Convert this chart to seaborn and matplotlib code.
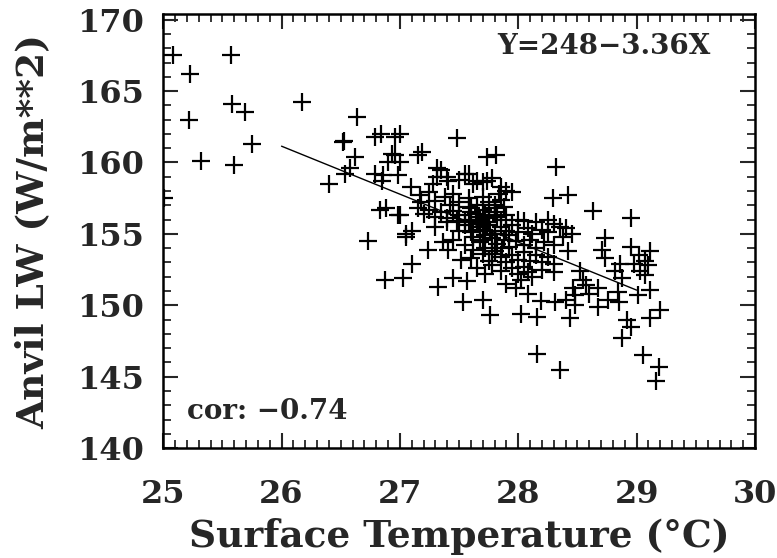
import matplotlib
matplotlib.use("Agg")
import matplotlib.pyplot as plt
from matplotlib.ticker import MultipleLocator
import seaborn as sns
import pandas as pd
import numpy as np

# ---- data ----
sst_outer = [25.08, 25.23, 25.22, 25.32, 25.01, 25.57, 25.58, 25.69, 25.60, 25.75,
             26.17, 26.40, 26.64, 26.53, 26.62, 26.58, 26.73, 26.84, 27.00, 26.86,
             26.88, 26.87, 27.03, 27.10, 27.00, 26.96, 27.00, 27.19, 27.48, 27.81,
             28.32, 28.42, 28.29, 28.63, 28.95, 28.73, 28.95, 28.73, 29.11, 29.07,
             28.82, 29.11, 29.20, 29.11, 28.95, 28.88, 29.05, 29.19, 29.16, 28.35,
             28.16, 28.16, 28.02, 27.76, 27.70, 27.53, 27.32, 27.45, 27.57, 27.24,
             27.41, 27.36, 28.44, 28.48, 28.31, 28.19, 28.52, 28.57, 28.67, 28.76,
             28.85, 28.84, 28.46, 28.48, 28.40, 28.88, 29.01, 28.98, 29.03, 29.07,
             28.67, 28.86, 28.71, 26.79, 26.96, 26.52, 26.93, 27.15, 26.90, 27.74,
             26.54, 26.79, 26.85, 26.98, 27.09, 27.31, 27.31, 27.28, 27.41, 27.58,
             27.65, 27.74, 27.17, 26.83, 26.98, 29.02, 29.10, 28.92, 28.60, 28.55]
lw_outer = [167.5, 166.2, 163.0, 160.1, 157.5, 167.5, 164.1, 163.5, 159.85, 161.3,
            164.2, 158.5, 163.2, 161.5, 160.4, 159.6, 154.5, 162.0, 162.0, 159.1,
            156.8, 151.8, 151.9, 152.9, 156.3, 160.5, 160.0, 160.7, 161.7, 160.5,
            159.7, 157.7, 157.5, 156.6, 156.1, 154.7, 154.1, 153.3, 153.8, 152.1,
            152.4, 151.1, 149.7, 149.1, 148.5, 147.7, 146.5, 145.7, 144.7, 145.5,
            146.6, 149.2, 149.4, 149.3, 150.4, 150.2, 151.3, 151.9, 151.7, 153.9,
            153.9, 154.4, 149.1, 150.0, 150.2, 150.3, 152.4, 151.4, 149.9, 150.4,
            150.2, 150.9, 151.2, 150.7, 150.4, 151.9, 150.7, 152.9, 152.4, 153.1,
            151.2, 152.9, 153.9, 161.8, 161.8, 161.4, 160.6, 160.5, 160.0, 160.4,
            159.2, 159.2, 158.7, 159.1, 158.3, 159.6, 159.0, 158.5, 158.7, 159.2,
            158.7, 158.7, 157.7, 156.7, 156.3, 153.5, 152.8, 149.0, 150.8, 151.8]

sst_core = [27.35, 27.40, 27.50, 27.55, 27.62, 27.70, 27.78, 27.85, 27.90, 27.95,
            27.25, 27.30, 27.38, 27.45, 27.50, 27.58, 27.65, 27.70, 27.75, 27.80,
            27.85, 27.88, 27.60, 27.42, 27.18,
            27.15, 27.20, 27.25, 27.30, 27.35, 27.40, 27.45, 27.50, 27.55, 27.60,
            27.65, 27.70, 27.75, 27.80, 27.85, 27.90, 28.00, 28.05, 28.15, 28.25,
            28.30, 28.40,
            27.10, 27.05, 27.30, 27.40, 27.50, 27.55, 27.60, 27.65, 27.70, 27.75,
            27.80, 27.85, 27.90, 27.95, 28.00, 28.08, 28.12, 28.20, 28.25, 28.35,
            28.45,
            27.05, 27.45, 27.55, 27.62, 27.68, 27.72, 27.78, 27.82, 27.88, 27.92,
            27.98, 28.05, 28.10, 28.15, 28.22, 28.30, 28.38, 28.42,
            27.60, 27.70, 27.75, 27.80, 27.85, 27.90, 27.95, 28.00, 28.05, 28.10,
            28.15, 28.20, 28.25, 28.30,
            27.65, 27.72, 27.78, 27.85, 27.95, 28.00, 28.05, 28.08, 28.12, 28.20,
            28.30, 27.90, 28.02, 27.98, 28.08,
            27.48, 27.58, 27.68, 27.82, 27.92, 27.62, 27.72, 27.52, 27.66, 27.84,
            27.64, 27.74, 27.70, 27.80, 27.76, 27.68, 27.86, 27.58, 27.72, 27.78]
lw_core = [159.5, 159.0, 158.8, 159.2, 158.5, 158.6, 158.9, 158.3, 158.0, 157.9,
           157.9, 157.3, 157.6, 157.8, 157.2, 157.5, 157.0, 157.6, 157.2, 157.0,
           157.4, 156.9, 156.8, 157.0, 157.2,
           156.8, 156.4, 156.7, 156.2, 156.5, 156.1, 156.6, 156.3, 156.0, 156.5,
           156.2, 156.7, 156.1, 156.5, 156.0, 156.3, 156.0, 155.9, 155.8, 156.0,
           155.7, 155.4,
           155.2, 155.0, 155.5, 155.8, 155.2, 155.6, 155.1, 155.7, 155.3, 155.8,
           155.0, 155.5, 155.2, 155.6, 155.1, 155.4, 155.0, 155.3, 155.1, 155.5,
           155.0,
           154.8, 154.6, 154.2, 154.8, 154.4, 154.0, 154.7, 154.3, 154.6, 154.1,
           154.5, 154.2, 154.6, 154.0, 154.4, 154.2, 154.8, 153.8,
           153.3, 153.6, 153.1, 153.8, 153.4, 153.0, 153.5, 153.2, 153.7, 153.1,
           153.5, 153.0, 153.4, 152.9,
           152.6, 152.2, 152.8, 152.4, 152.6, 152.2, 152.7, 152.3, 152.0, 152.5,
           152.3, 151.5, 151.8, 151.2, 150.8,
           155.9, 156.9, 155.5, 156.2, 154.9, 153.9, 154.9, 153.2, 156.0, 157.8,
           156.4, 155.6, 154.6, 156.8, 155.2, 156.0, 154.0, 155.8, 156.3, 153.6]

sst = sst_outer + sst_core
lw = lw_outer + lw_core

fit_intercept = 248.5
fit_slope = -3.36
fit_x = [26.0, 29.0]

x_ticks = [25, 26, 27, 28, 29, 30]
y_ticks = [140, 145, 150, 155, 160, 165, 170]

df = pd.DataFrame({"sst": sst, "lw": lw})
fit_df = pd.DataFrame({"x": fit_x, "y": [fit_intercept + fit_slope * v for v in fit_x]})

# ---- plot ----
sns.set_style("ticks")
plt.rcParams["font.family"] = ["DejaVu Serif"]
plt.rcParams["font.weight"] = "bold"

fig = plt.figure(figsize=(7.77, 5.58), dpi=100)
ax = fig.add_axes([0.21, 0.197, 0.7617, 0.778])

sns.scatterplot(data=df, x="sst", y="lw", marker="+", s=150, color="black",
                linewidth=1.6, ax=ax, legend=False)
sns.lineplot(data=fit_df, x="x", y="y", color="black", linewidth=1.0, ax=ax,
             legend=False)

ax.set_xlim(25, 30)
ax.set_ylim(140, 170.4)
ax.set_xticks(x_ticks)
ax.set_yticks(y_ticks)
ax.xaxis.set_minor_locator(MultipleLocator(0.1))
ax.yaxis.set_minor_locator(MultipleLocator(1))
ax.tick_params(which="major", direction="in", length=11, width=1.5,
               top=True, right=True, labelsize=23)
ax.tick_params(axis="x", which="major", pad=22)
ax.tick_params(axis="y", which="major", pad=14)
ax.tick_params(which="minor", direction="in", length=6, width=1.3,
               top=True, right=True)
for s in ax.spines.values():
    s.set_linewidth(1.8)
    s.set_color("black")

ax.set_xlabel("Surface Temperature (°C)", fontsize=27, fontweight="bold",
              labelpad=6)
ax.set_ylabel("Anvil LW (W/m**2)", fontsize=27, fontweight="bold", labelpad=18)

ax.text(0.925, 0.925, "Y=248\u22123.36X", transform=ax.transAxes, ha="right",
        va="center", fontsize=20, fontweight="bold")
ax.text(0.04, 0.085, "cor: \u22120.74", transform=ax.transAxes, ha="left",
        va="center", fontsize=20, fontweight="bold")

fig.savefig("out.png", dpi=100)
